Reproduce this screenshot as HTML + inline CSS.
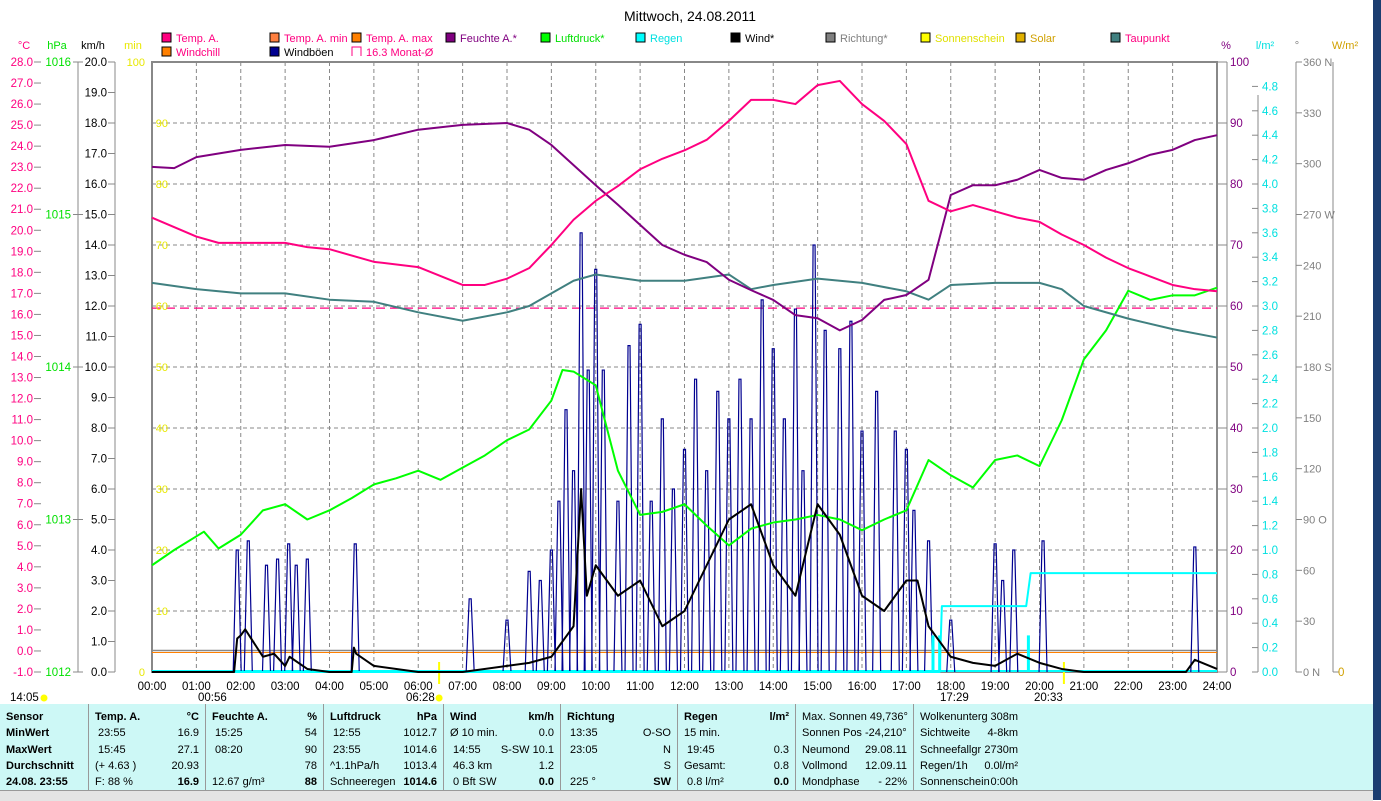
<!DOCTYPE html>
<html><head><meta charset="utf-8"><style>
html,body{margin:0;padding:0;background:#fff;}
body{width:1381px;height:800px;overflow:hidden;position:relative;font-family:"Liberation Sans",sans-serif;}
svg text{font-family:"Liberation Sans",sans-serif;}
#tbl{position:absolute;left:0;top:704px;width:1373px;height:86px;background:#cdf8f6;}
.col{position:absolute;top:0;height:86px;border-right:1px solid #999;font-size:11px;}
.r{position:absolute;left:6px;right:6px;height:16px;line-height:16px;white-space:nowrap;}
.r span{position:absolute;right:0;}
.b{font-weight:bold;}
</style></head><body>
<svg id="chart" width="1381" height="800" style="position:absolute;left:0;top:0"></svg>
<div id="tbl">
 <div class="col" style="left:0;width:88px">
  <div class="r b" style="top:5px">Sensor</div><div class="r b" style="top:21px">MinWert</div><div class="r b" style="top:38px">MaxWert</div><div class="r b" style="top:54px">Durchschnitt</div><div class="r b" style="top:70px">24.08. 23:55</div></div>
 <div class="col" style="left:89px;width:116px">
  <div class="r b" style="top:5px">Temp. A.<span>°C</span></div><div class="r" style="top:21px">&nbsp;23:55<span>16.9</span></div><div class="r" style="top:38px">&nbsp;15:45<span>27.1</span></div><div class="r" style="top:54px">(+ 4.63 )<span>20.93</span></div><div class="r" style="top:70px">F: 88 %<span class="b">16.9</span></div></div>
 <div class="col" style="left:206px;width:117px">
  <div class="r b" style="top:5px">Feuchte A.<span>%</span></div><div class="r" style="top:21px">&nbsp;15:25<span>54</span></div><div class="r" style="top:38px">&nbsp;08:20<span>90</span></div><div class="r" style="top:54px"><span>78</span></div><div class="r" style="top:70px">12.67 g/m³<span class="b">88</span></div></div>
 <div class="col" style="left:324px;width:119px">
  <div class="r b" style="top:5px">Luftdruck<span>hPa</span></div><div class="r" style="top:21px">&nbsp;12:55<span>1012.7</span></div><div class="r" style="top:38px">&nbsp;23:55<span>1014.6</span></div><div class="r" style="top:54px">^1.1hPa/h<span>1013.4</span></div><div class="r" style="top:70px">Schneeregen<span class="b">1014.6</span></div></div>
 <div class="col" style="left:444px;width:116px">
  <div class="r b" style="top:5px">Wind<span>km/h</span></div><div class="r" style="top:21px">Ø 10 min.<span>0.0</span></div><div class="r" style="top:38px">&nbsp;14:55<span>S-SW 10.1</span></div><div class="r" style="top:54px">&nbsp;46.3 km<span>1.2</span></div><div class="r" style="top:70px">&nbsp;0 Bft SW<span class="b">0.0</span></div></div>
 <div class="col" style="left:561px;width:116px">
  <div class="r b" style="top:5px">Richtung</div><div class="r" style="top:21px">&nbsp;13:35<span>O-SO</span></div><div class="r" style="top:38px">&nbsp;23:05<span>N</span></div><div class="r" style="top:54px"><span>S</span></div><div class="r" style="top:70px">&nbsp;225 °<span class="b">SW</span></div></div>
 <div class="col" style="left:678px;width:117px">
  <div class="r b" style="top:5px">Regen<span>l/m²</span></div><div class="r" style="top:21px">15 min.</div><div class="r" style="top:38px">&nbsp;19:45<span>0.3</span></div><div class="r" style="top:54px">Gesamt:<span>0.8</span></div><div class="r" style="top:70px">&nbsp;0.8 l/m²<span class="b">0.0</span></div></div>
 <div class="col" style="left:796px;width:117px">
  <div class="r" style="top:5px">Max. Sonnen 49,736°</div><div class="r" style="top:21px">Sonnen Pos -24,210°</div><div class="r" style="top:38px">Neumond<span>29.08.11</span></div><div class="r" style="top:54px">Vollmond<span>12.09.11</span></div><div class="r" style="top:70px">Mondphase<span>- 22%</span></div></div>
 <div class="col" style="left:914px;width:110px;border-right:none">
  <div class="r" style="top:5px">Wolkenunterg<span>308m</span></div><div class="r" style="top:21px">Sichtweite<span>4-8km</span></div><div class="r" style="top:38px">Schneefallgr<span>2730m</span></div><div class="r" style="top:54px">Regen/1h<span>0.0l/m²</span></div><div class="r" style="top:70px">Sonnenschein<span>0:00h</span></div></div>
</div>
<div style="position:absolute;left:0;top:790px;width:1373px;height:10px;background:#e4e4e4;border-top:1px solid #999"></div>
<div style="position:absolute;left:1373px;top:0;width:8px;height:800px;background:#1b3d70"></div>
<script>
// ---- data ----
const tempTimes=[0,1,1.5,2,3,3.5,4,5,6,7,7.5,8,8.5,9,9.5,10,10.5,11,11.5,12,12.5,13,13.5,14,14.5,15,15.5,16,16.5,17,17.5,18,18.5,19,19.5,20,20.5,21,21.5,22,22.5,23,23.5,24];
const tempValues=[20.6,19.7,19.4,19.4,19.4,19.2,19.1,18.5,18.25,17.4,17.4,17.7,18.2,19.3,20.5,21.4,22.1,22.9,23.4,23.8,24.3,25.2,26.2,26.2,26.0,26.9,27.1,26.0,25.2,24.1,21.4,20.9,21.2,20.9,20.6,20.4,19.8,19.3,18.7,18.2,17.8,17.4,17.2,17.1];
const humTimes=[0,0.5,1,2,3,4,5,6,7,8,8.5,9,9.5,10,10.5,11,11.5,12,12.5,13,13.5,14,14.5,15,15.5,16,16.5,17,17.5,18,18.5,19,19.5,20,20.5,21,21.5,22,22.5,23,23.5,24];
const humValues=[82.8,82.6,84.4,85.6,86.4,86.1,87.2,88.9,89.7,90,88.9,86.4,83.1,79.8,76.6,73.3,70,68.4,67.2,64.3,62.6,61,58.5,58,56,57.7,61,61.8,64.3,78.2,79.8,79.8,80.7,82.3,81,80.7,82.3,83.4,84.8,85.6,87.2,88];
const dewTimes=[0,1,2,3,4,5,6,7,8,8.5,9,9.5,10,11,12,13,13.5,14,15,16,17,17.5,18,19,20,20.5,21,22,23,24];
const dewValues=[17.5,17.2,17.0,17.0,16.7,16.6,16.1,15.7,16.1,16.4,17.0,17.6,17.9,17.6,17.6,17.9,17.2,17.4,17.7,17.5,17.1,16.7,17.4,17.5,17.5,17.2,16.4,15.8,15.3,14.9];
const pressTimes=[0,0.5,1.17,1.5,2,2.5,3,3.5,4,4.5,5,5.5,6,6.5,7,7.5,8,8.5,9,9.25,9.5,10,10.5,11,11.5,12,12.5,13,13.5,14,14.5,15,15.5,16,16.5,17,17.5,18,18.5,19,19.5,20,20.5,21,21.5,22,22.5,23,23.5,24];
const pressValues=[1012.70,1012.80,1012.92,1012.81,1012.90,1013.06,1013.10,1013.00,1013.06,1013.14,1013.23,1013.27,1013.32,1013.26,1013.34,1013.42,1013.52,1013.59,1013.78,1013.98,1013.97,1013.88,1013.32,1013.03,1013.05,1013.10,1012.96,1012.83,1012.94,1012.98,1013.00,1013.03,1013.00,1012.93,1013.00,1013.06,1013.39,1013.29,1013.21,1013.39,1013.42,1013.35,1013.65,1014.05,1014.24,1014.50,1014.44,1014.47,1014.47,1014.52];
const windTimes=[0,1.85,1.92,2,2.1,2.5,2.75,3,3.1,3.5,4,4.5,4.55,4.6,5,6,7,8.5,9,9.5,9.67,9.8,10,10.5,11,11.5,12,12.5,13,13.5,14,14.5,15,15.5,16,16.5,17,17.25,17.5,18,18.5,19,19.5,20,20.5,21,23.3,23.5,24];
const windValues=[0,0,1.1,1.2,1.4,0.5,0.6,0.2,0.5,0.1,0,0,0.8,0.6,0.2,0,0,0.3,0.5,1.5,6.0,2.5,3.5,2.5,3.0,1.5,2.0,3.5,5.0,5.5,3.5,2.5,5.5,4.5,2.5,2.0,3.0,3.0,1.5,0.5,0.3,0.2,0.6,0.3,0.1,0,0,0.4,0.1];
const gustTimes=[1.92,2.17,2.58,2.83,3.08,3.25,3.5,4.58,7.17,8,8.5,8.75,9,9.17,9.33,9.5,9.67,9.83,10,10.17,10.5,10.75,11,11.25,11.5,11.75,12,12.25,12.5,12.75,13,13.25,13.5,13.75,14,14.25,14.5,14.67,14.92,15.17,15.5,15.75,16,16.33,16.75,17,17.17,17.5,18,19,19.17,19.42,20.08,23.5];
const gustValues=[4.0,4.3,3.5,3.7,4.2,3.5,3.7,4.2,2.4,1.7,3.3,3.0,4.0,5.6,8.6,6.6,14.4,9.9,13.2,9.9,5.6,10.7,11.4,5.6,8.3,6.0,7.3,9.6,6.6,9.2,8.3,9.6,8.3,12.2,10.6,8.3,11.9,6.6,14.0,11.2,10.6,11.5,7.9,9.2,7.9,7.3,5.3,4.3,1.7,4.2,3.0,4.0,4.3,4.1];
const rainTotalTimes=[0,17.75,17.8,19.7,19.8,24];
const rainTotalValues=[0,0,0.54,0.54,0.81,0.81];
const rainBarTimes=[17.6,17.75,19.75];
const rainBarValues=[0.3,0.3,0.3];
const tempTicks=[28,27,26,25,24,23,22,21,20,19,18,17,16,15,14,13,12,11,10,9,8,7,6,5,4,3,2,1,0,-1];
const hpaTicks=[1016,1015,1014,1013,1012];
const kmhTicks=[20,19,18,17,16,15,14,13,12,11,10,9,8,7,6,5,4,3,2,1,0];
const pctTicks=[100,90,80,70,60,50,40,30,20,10,0];
const rainTicks=[4.8,4.6,4.4,4.2,4.0,3.8,3.6,3.4,3.2,3.0,2.8,2.6,2.4,2.2,2.0,1.8,1.6,1.4,1.2,1.0,0.8,0.6,0.4,0.2,0.0];
const dirTicks=[360,330,300,270,240,210,180,150,120,90,60,30,0];
const dirNames={360:'N',270:'W',180:'S',90:'O',0:'N'};
const hourLabels=['00:00','01:00','02:00','03:00','04:00','05:00','06:00','07:00','08:00','09:00','10:00','11:00','12:00','13:00','14:00','15:00','16:00','17:00','18:00','19:00','20:00','21:00','22:00','23:00','24:00'];
const monthAvg=16.3;

// ---- scales ----
const L=152,R=1217,T=62,B=672;
const X=h=>L+h*(R-L)/24;
const yT=v=>T+(28-v)*(B-T)/29;
const yP=v=>T+(1016-v)*(B-T)/4;
const yK=v=>B-v*(B-T)/20;
const yH=v=>B-v*(B-T)/100;
const yR=v=>B-v*(B-T)/5;
const yD=v=>B-v*(B-T)/360;

const svg=document.getElementById('chart');
const NS='http://www.w3.org/2000/svg';
function mk(tag,attrs,parent){const e=document.createElementNS(NS,tag);for(const k in attrs)e.setAttribute(k,attrs[k]);(parent||svg).appendChild(e);return e;}
function txt(s,x,y,fill,anchor,size){const e=mk('text',{x:x,y:y,fill:fill,'text-anchor':anchor||'start','font-size':size||12});e.textContent=s;return e;}

let e;
e=txt('Mittwoch, 24.08.2011',690,21,'#000','middle',14);



const legend=[['Temp. A.','#ff0080','#ff0080',162,37],['Temp. A. min','#ff8040','#ff0080',270,37],['Temp. A. max','#ff8000','#ff0080',352,37],['Feuchte A.*','#800080','#800080',446,37],['Luftdruck*','#00ff00','#00e000',541,37],['Regen','#00ffff','#00e0e0',636,37],['Wind*','#000000','#000',731,37],['Richtung*','#808080','#808080',826,37],['Sonnenschein','#ffff00','#e0e000',921,37],['Solar','#e0b000','#d0a000',1016,37],['Taupunkt','#408080','#ff0080',1111,37],['Windchill','#ff8000','#ff0080',162,51],['Windböen','#000090','#000',270,51],['16.3 Monat-Ø','none','#ff0080',352,51]];
legend.forEach(l=>{
  const g=mk('g',{});
  
  
  if(l[1]==='none') mk('path',{d:`M${l[3]} ${l[4]+5}V${l[4]-4}H${l[3]+9}V${l[4]+5}`,fill:'none',stroke:'#ff0080'},g);
  else mk('rect',{x:l[3],y:l[4]-4,width:9,height:9,fill:l[1],stroke:'#000'},g);
  const t=mk('text',{x:l[3]+14,y:l[4]+5,fill:l[2],'font-size':11},g);t.textContent=l[0];
});

[['°C',24,'#ff0080'],['hPa',57,'#00e000'],['km/h',93,'#000'],['min',133,'#e8e800'],['%',1226,'#800080'],['l/m²',1265,'#00e0e0'],['°',1297,'#808080'],['W/m²',1345,'#d0a000']].forEach(h=>{
  e=txt(h[0],h[1],49,h[2],'middle',11);
  
  
});

const grid=mk('g',{stroke:'#888','stroke-dasharray':'4,3','stroke-width':1});


for(let i=1;i<10;i++) mk('line',{x1:L,x2:R,y1:yH(i*10),y2:yH(i*10)},grid);
for(let h=1;h<24;h++) mk('line',{x1:X(h),x2:X(h),y1:T,y2:B},grid);
e=mk('rect',{x:L,y:T,width:R-L,height:B-T,fill:'none',stroke:'#888','stroke-width':2});


mk('line',{x1:L,x2:R,y1:652.5,y2:652.5,stroke:'#ff8000','stroke-width':1});
mk('line',{x1:L,x2:R,y1:650.5,y2:650.5,stroke:'#888','stroke-width':1.5});
e=mk('line',{x1:L,x2:R,y1:yT(monthAvg),y2:yT(monthAvg),stroke:'#ff0080','stroke-dasharray':'9,5','stroke-width':1.3});



const ax=mk('g',{stroke:'#888'});


mk('line',{x1:78,x2:78,y1:T,y2:B},ax);
mk('line',{x1:115,x2:115,y1:T,y2:B},ax);
mk('line',{x1:1227,x2:1227,y1:T,y2:B},ax);
mk('line',{x1:1258,x2:1258,y1:95,y2:B},ax);
mk('line',{x1:1296,x2:1296,y1:T,y2:B},ax);
mk('line',{x1:1333,x2:1333,y1:62,y2:B},ax);
tempTicks.forEach(v=>{const y=yT(v);mk('line',{x1:34,x2:41,y1:y,y2:y},ax);e=txt(v.toFixed(1),33,y+4,'#ff0080','end',11.5);});
hpaTicks.forEach(v=>{const y=yP(v);mk('line',{x1:73,x2:83,y1:y,y2:y},ax);e=txt(String(v),71,y+4,'#00e000','end',11.5);});
kmhTicks.forEach(v=>{const y=yK(v);mk('line',{x1:108,x2:115,y1:y,y2:y},ax);e=txt(v.toFixed(1),107,y+4,'#000','end',11.5);});
pctTicks.forEach(v=>{const y=yH(v);
  e=txt(String(v),v===100||v===0?145:168,y+4,'#e8e800','end',11);
  mk('line',{x1:1217,x2:1227,y1:y,y2:y},ax);
  e=txt(String(v),1230,y+4,'#800080','start',11.5);});
rainTicks.forEach(v=>{const y=yR(v);mk('line',{x1:1252,x2:1258,y1:y,y2:y},ax);e=txt(v.toFixed(1),1262,y+4,'#00e0e0','start',11.5);});
dirTicks.forEach(v=>{const y=yD(v);mk('line',{x1:1296,x2:1302,y1:y,y2:y},ax);e=txt(String(v)+(dirNames[v]!==undefined?' '+dirNames[v]:''),1303,y+4,'#808080','start',11);});
mk('line',{x1:1333,x2:1339,y1:B,y2:B},ax);
e=txt('0',1338,B+4,'#d0a000','start',11.5);
hourLabels.forEach((s,i)=>{e=txt(s,X(i),690,'#000','middle',11.5);});

[['14:05',10,701],['00:56',198,701],['06:28',406,701],['17:29',940,701],['20:33',1034,701]].forEach(m=>{e=txt(m[0],m[1],m[2],'#000','start',11.5);});
mk('line',{x1:X(6.47),x2:X(6.47),y1:662,y2:684,stroke:'#ffff00','stroke-width':2});
mk('line',{x1:X(20.55),x2:X(20.55),y1:662,y2:684,stroke:'#ffff00','stroke-width':2});
mk('circle',{cx:X(6.47),cy:698,r:3.5,fill:'#ffff00'});
mk('circle',{cx:44,cy:698,r:3.5,fill:'#ffff00'});
mk('line',{x1:L,x2:R,y1:B-1,y2:B-1,stroke:'#00ffff','stroke-width':2});

function poly(ts,vs,yf,color,w,name){
  const p=mk('polyline',{points:ts.map((t,i)=>X(t)+','+yf(vs[i])).join(' '),fill:'none',stroke:color,'stroke-width':w,'stroke-linejoin':'round'});
  
  
  return p;
}
const gg=mk('g',{});


gustTimes.forEach((t,i)=>{
  const x=X(t),y=yK(gustValues[i]);
  const s=mk('polyline',{points:`${x-4},${B} ${x-1},${y} ${x+1},${y} ${x+4},${B}`,fill:'none',stroke:'#000090','stroke-width':1.2},gg);
  
  
});
const rg=mk('g',{});


rainBarTimes.forEach((t,i)=>{
  const r=mk('rect',{x:X(t)-1.5,y:yR(rainBarValues[i]),width:3,height:B-yR(rainBarValues[i]),fill:'#00ffff'},rg);
  
  
});
poly(rainTotalTimes,rainTotalValues,yR,'#00ffff',2,'rain-total-line');
poly(pressTimes,pressValues,yP,'#00ff00',2,'pressure-line');
poly(dewTimes,dewValues,yT,'#408080',2,'dewpoint-line');
poly(humTimes,humValues,yH,'#800080',2,'humidity-line');
poly(tempTimes,tempValues,yT,'#ff0080',2,'temperature-line');
poly(windTimes,windValues,yK,'#000',2,'wind-line');
</script>
</body></html>
